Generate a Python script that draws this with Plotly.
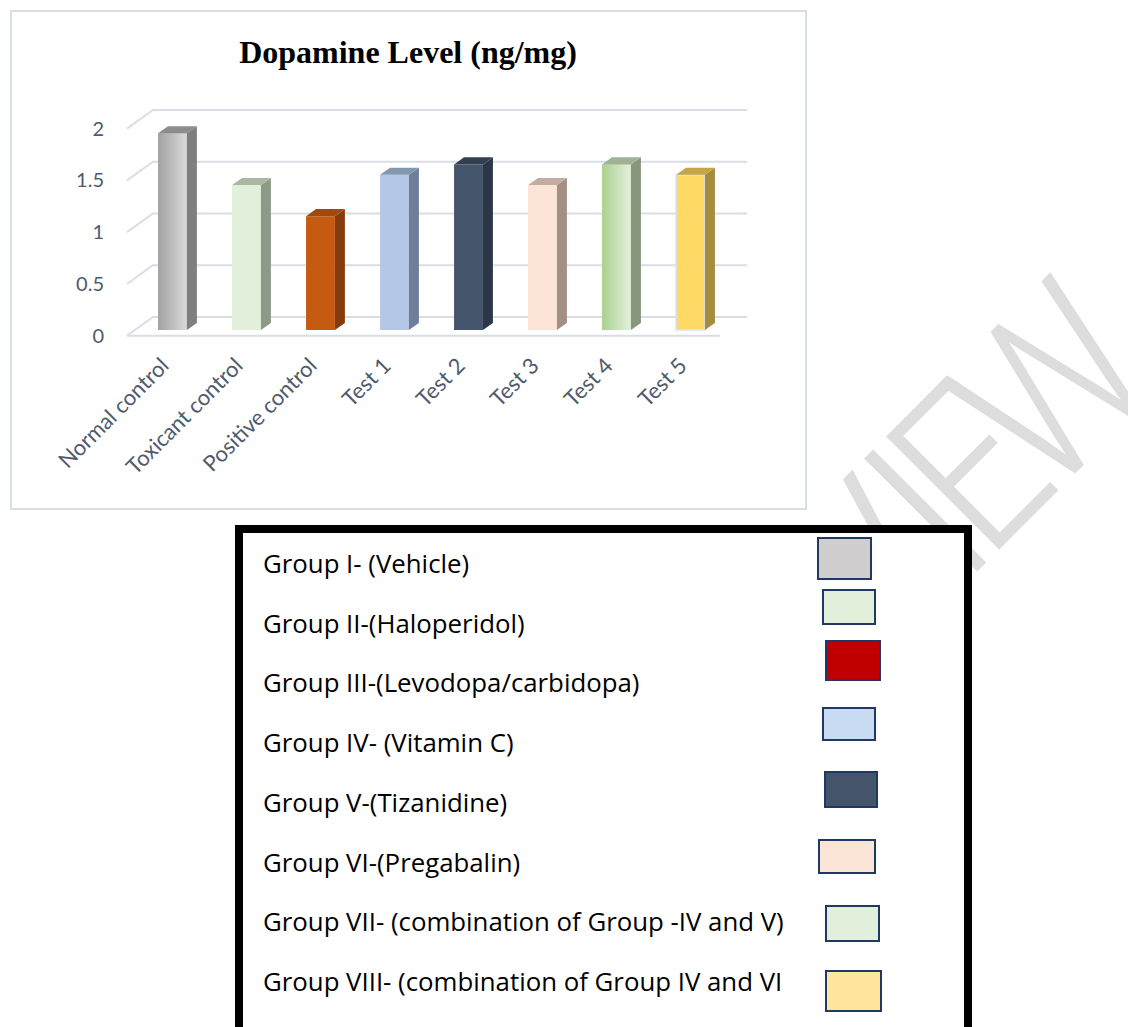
import plotly.graph_objects as go

# ---------------- data ----------------
categories = ["Normal control", "Toxicant control", "Positive control", "Test 1",
              "Test 2", "Test 3", "Test 4", "Test 5"]
dopamine = [1.9, 1.4, 1.1, 1.5, 1.6, 1.4, 1.6, 1.5]
y_ticks = [0, 0.5, 1, 1.5, 2]
y_tick_text = ["0", "0.5", "1", "1.5", "2"]
legend_labels = [
    "Group I- (Vehicle)",
    "Group II-(Haloperidol)",
    "Group III-(Levodopa/carbidopa)",
    "Group IV- (Vitamin C)",
    "Group V-(Tizanidine)",
    "Group VI-(Pregabalin)",
    "Group VII- (combination of Group -IV and V)",
    "Group VIII- (combination of Group IV and VI",
]
watermark_letters = ["R", "E", "V", "I", "E", "W"]

# ---------------- styles ----------------
front_colors = ["#bdbdbd", "#e2efda", "#c55a11", "#b4c7e7", "#44546a", "#fce4d6", "#c6e0b4", "#ffd966"]
side_colors = ["#7f7f7f", "#8e9a88", "#843c0c", "#6f7f99", "#2b3646", "#a39085", "#86977c", "#a58b3e"]
top_colors = ["#8c8c8c", "#a9b8a2", "#9e4a10", "#8497b0", "#333f50", "#c4ada0", "#9fb294", "#c4a647"]
gradients = {0: ["#a2a2a2", "#dadada"], 6: ["#a9d18e", "#e4f0dd"]}
swatch_colors = ["#d0cece", "#e2efda", "#c00000", "#c9dbf3", "#44546a", "#fbe5d6", "#e2efda", "#ffe59e"]
swatch_boxes = [(817, 537, 872, 580), (822, 589, 876, 625), (825, 640, 881, 681), (822, 707, 876, 741),
                (824, 771, 878, 808), (818, 839, 876, 874), (825, 905, 880, 942), (825, 970, 882, 1012)]
watermark_offsets = [-264, -171, -78, 0, 62, 178]   # px along the rotated baseline
WM_ORIGIN = (927, 513)

W, H = 1128, 1027
L, R, T, B = 120, 368, 100, 687
PW, PH = W - L - R, H - T - B


def px(x):
    return (x - L) / PW


def py(y):
    return (H - B - y) / PH


X_RANGE = [-0.709, 7.939]
Y_RANGE = [-0.0966, 2.222]
BAR_W, DX, DY = 0.39, 0.135, 0.068
FRONT_OFF, BACK_OFF = -0.055, 0.126
X_FRONT, X_BACK, X_END, X_FLOOR_END = -0.615, -0.264, 7.764, 7.40
GRID_COLOR = "#d9dde6"
AXIS_FONT = "Lato"
LEGEND_FONT = "Open Sans"

fig = go.Figure()

# front faces
n = len(categories)
fig.add_trace(go.Bar(
    x=list(range(n)), y=dopamine, width=BAR_W,
    marker=dict(color=front_colors,
                line=dict(color=["rgba(0,0,0,0)"] * (n - 1) + ["#dae3f3"],
                          width=[0] * (n - 1) + [1.5])),
    hoverinfo="skip", showlegend=False))

# gradient overlays, side and top faces
for i, v in enumerate(dopamine):
    hw = BAR_W / 2
    if i in gradients:
        fig.add_trace(go.Scatter(
            x=[i - hw, i + hw, i + hw, i - hw, i - hw], y=[0, 0, v, v, 0],
            mode="lines", line=dict(width=0), fill="toself",
            fillgradient=dict(type="horizontal",
                              colorscale=[[0, gradients[i][0]], [1, gradients[i][1]]]),
            hoverinfo="skip", showlegend=False))
    fig.add_trace(go.Scatter(
        x=[i + hw, i + hw + DX, i + hw + DX, i + hw, i + hw],
        y=[0, DY, v + DY, v, 0],
        mode="lines", line=dict(width=0), fill="toself", fillcolor=side_colors[i],
        hoverinfo="skip", showlegend=False))
    fig.add_trace(go.Scatter(
        x=[i - hw, i + hw, i + hw + DX, i - hw + DX, i - hw],
        y=[v, v, v + DY, v + DY, v],
        mode="lines", line=dict(width=0), fill="toself", fillcolor=top_colors[i],
        hoverinfo="skip", showlegend=False))

# perspective gridlines (below bars)
shapes = []
for v in y_ticks:
    shapes.append(dict(type="path", xref="x", yref="y", layer="below",
                       path=f"M {X_FRONT},{v + FRONT_OFF} L {X_BACK},{v + BACK_OFF} L {X_END},{v + BACK_OFF}",
                       line=dict(color=GRID_COLOR, width=2)))
shapes.append(dict(type="line", xref="x", yref="y", layer="below",
                   x0=X_FRONT, y0=FRONT_OFF, x1=X_FLOOR_END, y1=FRONT_OFF,
                   line=dict(color=GRID_COLOR, width=2)))
# chart frame
shapes.append(dict(type="rect", xref="paper", yref="paper",
                   x0=px(11), y0=py(11), x1=px(806), y1=py(509),
                   line=dict(color="#d9dde5", width=2), fillcolor="rgba(0,0,0,0)"))

annotations = []
# watermark (one rotated letter per annotation, drawn first so the legend box covers part of it)
for ch, u in zip(watermark_letters, watermark_offsets):
    cx, cy = WM_ORIGIN[0] + u * 0.7071, WM_ORIGIN[1] - u * 0.7071
    annotations.append(dict(text=ch, xref="paper", yref="paper", x=px(cx), y=py(cy),
                            xanchor="center", yanchor="middle", showarrow=False, textangle=-45,
                            font=dict(family="Roboto Condensed", size=225, weight=300,
                                      color="#dddddd")))
# legend box
annotations.append(dict(text=" ", xref="paper", yref="paper", x=px(235), y=py(525),
                        xanchor="left", yanchor="top", showarrow=False,
                        width=721, height=510, bgcolor="white", bordercolor="black",
                        borderwidth=8, borderpad=0, font=dict(size=2)))
row0, row_step = 563, 59.7
for i, lab in enumerate(legend_labels):
    annotations.append(dict(text=lab, xref="paper", yref="paper", x=px(261), y=py(row0 + row_step * i),
                            xanchor="left", yanchor="middle", showarrow=False,
                            font=dict(family=LEGEND_FONT, size=25.8, color="black")))
    x0, y0, x1, y1 = swatch_boxes[i]
    annotations.append(dict(text=" ", xref="paper", yref="paper", x=px(x0), y=py(y0),
                            xanchor="left", yanchor="top", showarrow=False,
                            width=x1 - x0 - 4, height=y1 - y0 - 4, bgcolor=swatch_colors[i],
                            bordercolor="#203864", borderwidth=2, borderpad=0, font=dict(size=2)))

fig.update_layout(
    width=W, height=H, margin=dict(l=L, r=R, t=T, b=B),
    paper_bgcolor="white", plot_bgcolor="white",
    title=dict(text="<b>Dopamine Level (ng/mg)</b>", x=408 / W, y=1 - 52 / H,
               xanchor="center", yanchor="middle",
               font=dict(family="Liberation Serif", size=32, color="black")),
    xaxis=dict(range=X_RANGE, tickvals=list(range(n)), ticktext=categories, tickangle=-45,
               ticks="outside", ticklen=3, tickcolor="rgba(0,0,0,0)", ticklabelshift=-10,
               showgrid=False, zeroline=False, showline=False,
               tickfont=dict(family=AXIS_FONT, size=22, color="#4f5b6d")),
    yaxis=dict(range=Y_RANGE, tickvals=[v + FRONT_OFF for v in y_ticks], ticktext=y_tick_text,
               ticks="outside", ticklen=11, tickcolor="rgba(0,0,0,0)",
               showgrid=False, zeroline=False, showline=False,
               tickfont=dict(family=AXIS_FONT, size=20, color="#4f5b6d")),
    shapes=shapes, annotations=annotations, showlegend=False,
)

fig.write_html("out.html")
